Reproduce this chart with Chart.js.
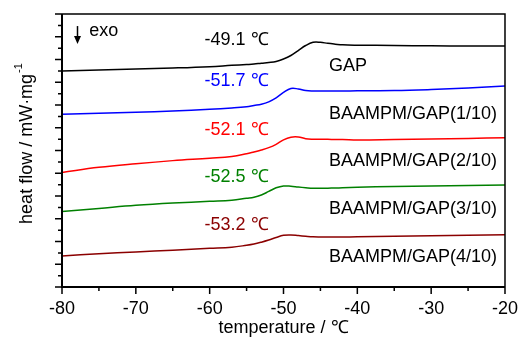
<!DOCTYPE html>
<html>
<head>
<meta charset="utf-8">
<script src="https://cdn.jsdelivr.net/npm/chart.js@4.4.0/dist/chart.umd.min.js"></script>
<style>
  body { margin: 0; background: #fff; }
  canvas { display: block; }
</style>
</head>
<body>
<canvas id="dsc" width="529" height="337"></canvas>
<script>
// DSC curves, heat flow in arbitrary offset units
const temperatures = [-80, -75, -70, -65, -60, -57, -55, -54, -53, -52, -51, -50, -49, -48, -47, -46, -45, -44, -43, -42, -40, -35, -30, -25, -20];

const gap = [18.99, 19.08, 19.16, 19.25, 19.37, 19.49, 19.56, 19.60, 19.67, 19.73, 19.82, 20.04, 20.35, 20.79, 21.23, 21.51, 21.51, 21.42, 21.35, 21.29, 21.26, 21.23, 21.20, 21.19, 21.19];
const gap1 = [15.18, 15.27, 15.37, 15.47, 15.62, 15.74, 15.85, 15.96, 16.07, 16.28, 16.63, 17.10, 17.45, 17.41, 17.27, 17.23, 17.23, 17.23, 17.23, 17.23, 17.25, 17.27, 17.36, 17.49, 17.67];
const gap2 = [10.07, 10.52, 10.84, 11.11, 11.32, 11.47, 11.71, 11.87, 12.04, 12.25, 12.54, 12.94, 13.17, 13.19, 13.04, 12.99, 12.98, 12.98, 12.97, 12.97, 12.92, 12.96, 13.01, 13.06, 13.12];
const gap3 = [6.64, 6.91, 7.18, 7.38, 7.53, 7.62, 7.80, 7.89, 8.09, 8.40, 8.72, 8.88, 8.86, 8.79, 8.73, 8.68, 8.68, 8.69, 8.70, 8.72, 8.76, 8.84, 8.88, 8.92, 8.97];
const gap4 = [2.73, 2.92, 3.08, 3.24, 3.40, 3.50, 3.67, 3.78, 3.94, 4.13, 4.35, 4.54, 4.57, 4.52, 4.46, 4.41, 4.40, 4.40, 4.40, 4.40, 4.41, 4.46, 4.50, 4.54, 4.60];

const sampleNames = ['GAP', 'BAAMPM/GAP(1/10)', 'BAAMPM/GAP(2/10)', 'BAAMPM/GAP(3/10)', 'BAAMPM/GAP(4/10)'];
const glassTemps = ['-49.1 ℃', '-51.7 ℃', '-52.1 ℃', '-52.5 ℃', '-53.2 ℃'];
const colors = ['#000000', '#0000ff', '#ff0000', '#008000', '#8b0000'];

const xTicks = [-80, -70, -60, -50, -40, -30, -20];

// where the texts sit, in data units
const tgLabelX = -60.7;
const tgLabelY = [21.71, 18.11, 13.80, 9.63, 5.45];
const nameLabelX = -43.85;
const nameLabelY = [19.43, 15.25, 11.08, 6.86, 2.64];

const FONT = "'Liberation Sans', Arial, sans-serif";
const series = [gap, gap1, gap2, gap3, gap4];

// frame, tick marks, y title and the text labels
const decorations = {
  id: 'decorations',
  afterDraw(chart) {
    const { ctx, chartArea: a, scales: { x, y } } = chart;
    ctx.save();
    ctx.strokeStyle = '#000';

    // top and right border
    ctx.lineWidth = 1.5;
    ctx.beginPath();
    ctx.moveTo(a.left, a.top);
    ctx.lineTo(a.right, a.top);
    ctx.lineTo(a.right, a.bottom);
    ctx.stroke();
    // left and bottom axis
    ctx.lineWidth = 2;
    ctx.beginPath();
    ctx.moveTo(a.left, a.top);
    ctx.lineTo(a.left, a.bottom);
    ctx.lineTo(a.right, a.bottom);
    ctx.stroke();

    ctx.lineWidth = 1.5;
    ctx.beginPath();
    x.ticks.forEach(t => {
      const px = x.getPixelForValue(t.value);
      const len = t.value % 10 === 0 ? 7 : 4;
      ctx.moveTo(px, a.bottom);
      ctx.lineTo(px, a.bottom + len);
    });
    y.ticks.forEach(t => {
      const py = y.getPixelForValue(t.value);
      const len = t.value % 2 === 0 ? 7 : 4;
      ctx.moveTo(a.left, py);
      ctx.lineTo(a.left - len, py);
    });
    ctx.stroke();

    ctx.font = '18px ' + FONT;
    ctx.textBaseline = 'middle';
    ctx.textAlign = 'left';
    series.forEach((s, i) => {
      ctx.fillStyle = colors[i];
      ctx.fillText(glassTemps[i], x.getPixelForValue(tgLabelX), y.getPixelForValue(tgLabelY[i]));
      ctx.fillStyle = '#000';
      ctx.fillText(sampleNames[i], x.getPixelForValue(nameLabelX), y.getPixelForValue(nameLabelY[i]));
    });

    // exo arrow
    const ax = x.getPixelForValue(-77.9);
    const ay0 = y.getPixelForValue(22.94);
    const ay1 = y.getPixelForValue(21.36);
    ctx.lineWidth = 1.5;
    ctx.beginPath();
    ctx.moveTo(ax, ay0);
    ctx.lineTo(ax, ay1 - 6);
    ctx.stroke();
    ctx.fillStyle = '#000';
    ctx.beginPath();
    ctx.moveTo(ax - 3.5, ay1 - 8);
    ctx.lineTo(ax + 3.5, ay1 - 8);
    ctx.lineTo(ax, ay1);
    ctx.closePath();
    ctx.fill();
    ctx.fillText('exo', x.getPixelForValue(-76.3), y.getPixelForValue(22.51));

    // y title with superscript
    const main = 'heat flow / mW·mg';
    const sup = '-1';
    ctx.font = '18px ' + FONT;
    const w1 = ctx.measureText(main).width;
    ctx.font = '11px ' + FONT;
    const w2 = ctx.measureText(sup).width;
    const total = w1 + w2 + 1;
    ctx.translate(27, (a.top + a.bottom) / 2 - 7);
    ctx.rotate(-Math.PI / 2);
    ctx.font = '18px ' + FONT;
    ctx.fillText(main, -total / 2, 0);
    ctx.font = '11px ' + FONT;
    ctx.fillText(sup, -total / 2 + w1 + 1, -8);
    ctx.restore();
  }
};

new Chart(document.getElementById('dsc'), {
  type: 'line',
  data: {
    labels: temperatures,
    datasets: series.map((s, i) => ({
      label: sampleNames[i],
      data: temperatures.map((t, j) => ({ x: t, y: s[j] })),
      borderColor: colors[i],
      borderWidth: 1.5,
      pointRadius: 0,
      fill: false,
      tension: 0.4
    }))
  },
  options: {
    responsive: false,
    animation: false,
    layout: { padding: { top: 14, right: 14, left: 0, bottom: 0 } },
    plugins: {
      legend: { display: false },
      tooltip: { enabled: false }
    },
    scales: {
      x: {
        type: 'linear',
        min: -80,
        max: -20,
        grid: { display: false, drawTicks: false },
        border: { display: false },
        ticks: {
          stepSize: 5,
          padding: 11,
          color: '#000',
          font: { family: FONT, size: 18 },
          maxRotation: 0,
          callback: v => xTicks.includes(v) ? String(v) : ''
        },
        title: {
          display: true,
          text: 'temperature / ℃',
          color: '#000',
          font: { family: FONT, size: 18 },
          padding: { top: 0, bottom: -2 }
        },
        afterFit: s => { s.height = 50; }
      },
      y: {
        min: 0,
        max: 24,
        grid: { display: false, drawTicks: false },
        border: { display: false },
        ticks: { stepSize: 1, display: false },
        title: { display: false },
        afterFit: s => { s.width = 62; }
      }
    }
  },
  plugins: [decorations]
});
</script>
</body>
</html>
